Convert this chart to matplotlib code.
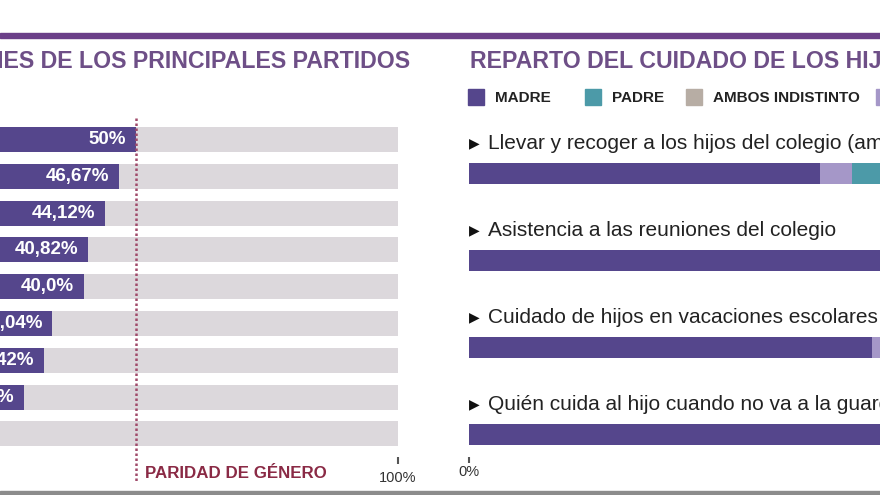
import matplotlib.pyplot as plt
import numpy as np

plt.rcParams['font.family'] = ['Liberation Sans', 'DejaVu Sans']

# left panel: share of women (%) per party, top to bottom
party_values = [50, 46.67, 44.12, 40.82, 40.0, 34.04, 32.42, 28.57, 20.0]
party_labels = ['50%', '46,67%', '44,12%', '40,82%', '40,0%', '34,04%', '32,42%', '28,57%', '20%']

# right panel: who takes care of the children (%)
tasks = ['Llevar y recoger a los hijos del colegio (ambos)',
         'Asistencia a las reuniones del colegio',
         'Cuidado de hijos en vacaciones escolares',
         'Quién cuida al hijo cuando no va a la guardería']
madre = [67, 85, 77, 88]
otros = [6, 4, 6, 3]
padre = [12, 5, 7, 4]
ambos = [15, 6, 10, 5]

legend_names = ['MADRE', 'PADRE', 'AMBOS INDISTINTO', 'OTROS']

c_purple = '#55468c'
c_otros = '#a597c8'
c_padre = '#4c9aa8'
c_ambos = '#b7ada4'
c_gray = '#dcd8dc'
c_title = '#6e4f87'

W, H = 880, 495
fig = plt.figure(figsize=(8.8, 4.95), dpi=100)

# background canvas in pixel units
bg = fig.add_axes([0, 0, 1, 1])
bg.set_xlim(0, W)
bg.set_ylim(H, 0)
bg.axis('off')
bg.add_patch(plt.Rectangle((0, 33), W, 5, color='#6b3f88'))
bg.add_patch(plt.Rectangle((0, 491), W, 4, color='#8c8c8c'))
bg.text(410, 62, 'DIRECCIONES DE LOS PRINCIPALES PARTIDOS', ha='right', va='center',
        fontsize=16.7, fontweight='bold', color=c_title)
bg.text(470, 62, 'REPARTO DEL CUIDADO DE LOS HIJOS', ha='left', va='center',
        fontsize=16.7, fontweight='bold', color=c_title)

# legend
leg_x = [468, 585, 686, 876]
leg_colors = [c_purple, c_padre, c_ambos, c_otros]
leg_weight = ['bold', 'bold', 'semibold', 'bold']
for x, name, col, fw in zip(leg_x, legend_names, leg_colors, leg_weight):
    bg.add_patch(plt.Rectangle((x, 89), 16, 16, color=col))
    bg.text(x + 27, 97.5, name, ha='left', va='center', fontsize=11,
            fontweight=fw, color='#222222')

bg.text(145, 473, 'PARIDAD DE GÉNERO', ha='left', va='center', fontsize=12.2,
        fontweight='bold', color='#8a2a45')

# left panel axes: 0% at x=-126px, 100% at x=398px
n = len(party_values)
top, step = 139.5, 36.8
y0 = top - step / 2
y1 = top + step * (n - 1) + step / 2
ax = fig.add_axes([-126 / W, 1 - y1 / H, 524 / W, (y1 - y0) / H])
pos = np.arange(n)
ax.barh(pos, [100] * n, height=0.68, color=c_gray)
ax.barh(pos, party_values, height=0.68, color=c_purple)
for p, v, lab in zip(pos, party_values, party_labels):
    ax.annotate(lab, (v, p), xytext=(-7, 0), textcoords='offset points',
                ha='right', va='center', color='white', fontsize=13.5,
                fontweight='bold')
ax.plot([50, 50], [-0.58, 9.3], color='#a04a6a', lw=1.8, ls=(0, (1, 1)),
        clip_on=False)
ax.set_xlim(0, 100)
ax.set_ylim(n - 0.5, -0.5)
ax.set_yticks([])
ax.set_xticks([100])
ax.set_xticklabels(['100%'])
for s in ax.spines.values():
    s.set_visible(False)
ax.spines['bottom'].set_position(('outward', 3.5))
ax.tick_params(axis='x', length=5, width=1.5, color='#555555', pad=5,
               labelsize=10.5, labelcolor='#333333')
ax.patch.set_alpha(0)

# right panel axes: 0% at x=469px, 100% at x=993px
m = len(tasks)
rtop, rstep = 173.5, 87.0
ry0 = rtop - rstep / 2
ry1 = 455
ax2 = fig.add_axes([469 / W, 1 - ry1 / H, 524 / W, (ry1 - ry0) / H])
rpos = np.arange(m)
left = np.zeros(m)
for vals, col in zip([madre, otros, padre, ambos], [c_purple, c_otros, c_padre, c_ambos]):
    ax2.barh(rpos, vals, left=left, height=0.24, color=col)
    left += np.array(vals)
for p, t in zip(rpos, tasks):
    ax2.text(0, p - 0.345, '▶', ha='left', va='center', fontsize=10,
             color='#111111', family='DejaVu Sans')
    ax2.text(3.6, p - 0.345, t, ha='left', va='center', fontsize=15,
             color='#222222', clip_on=False)
ax2.set_xlim(0, 100)
ax2.set_ylim((ry1 - rtop) / rstep, -0.5)
ax2.set_yticks([])
ax2.set_xticks([0])
ax2.set_xticklabels(['0%'])
for s in ax2.spines.values():
    s.set_visible(False)
ax2.spines['bottom'].set_position(('outward', 1.5))
ax2.tick_params(axis='x', length=4, width=1.5, color='#555555', pad=2,
                labelsize=10.5, labelcolor='#333333')
ax2.patch.set_alpha(0)

fig.savefig('out.png', dpi=100)
